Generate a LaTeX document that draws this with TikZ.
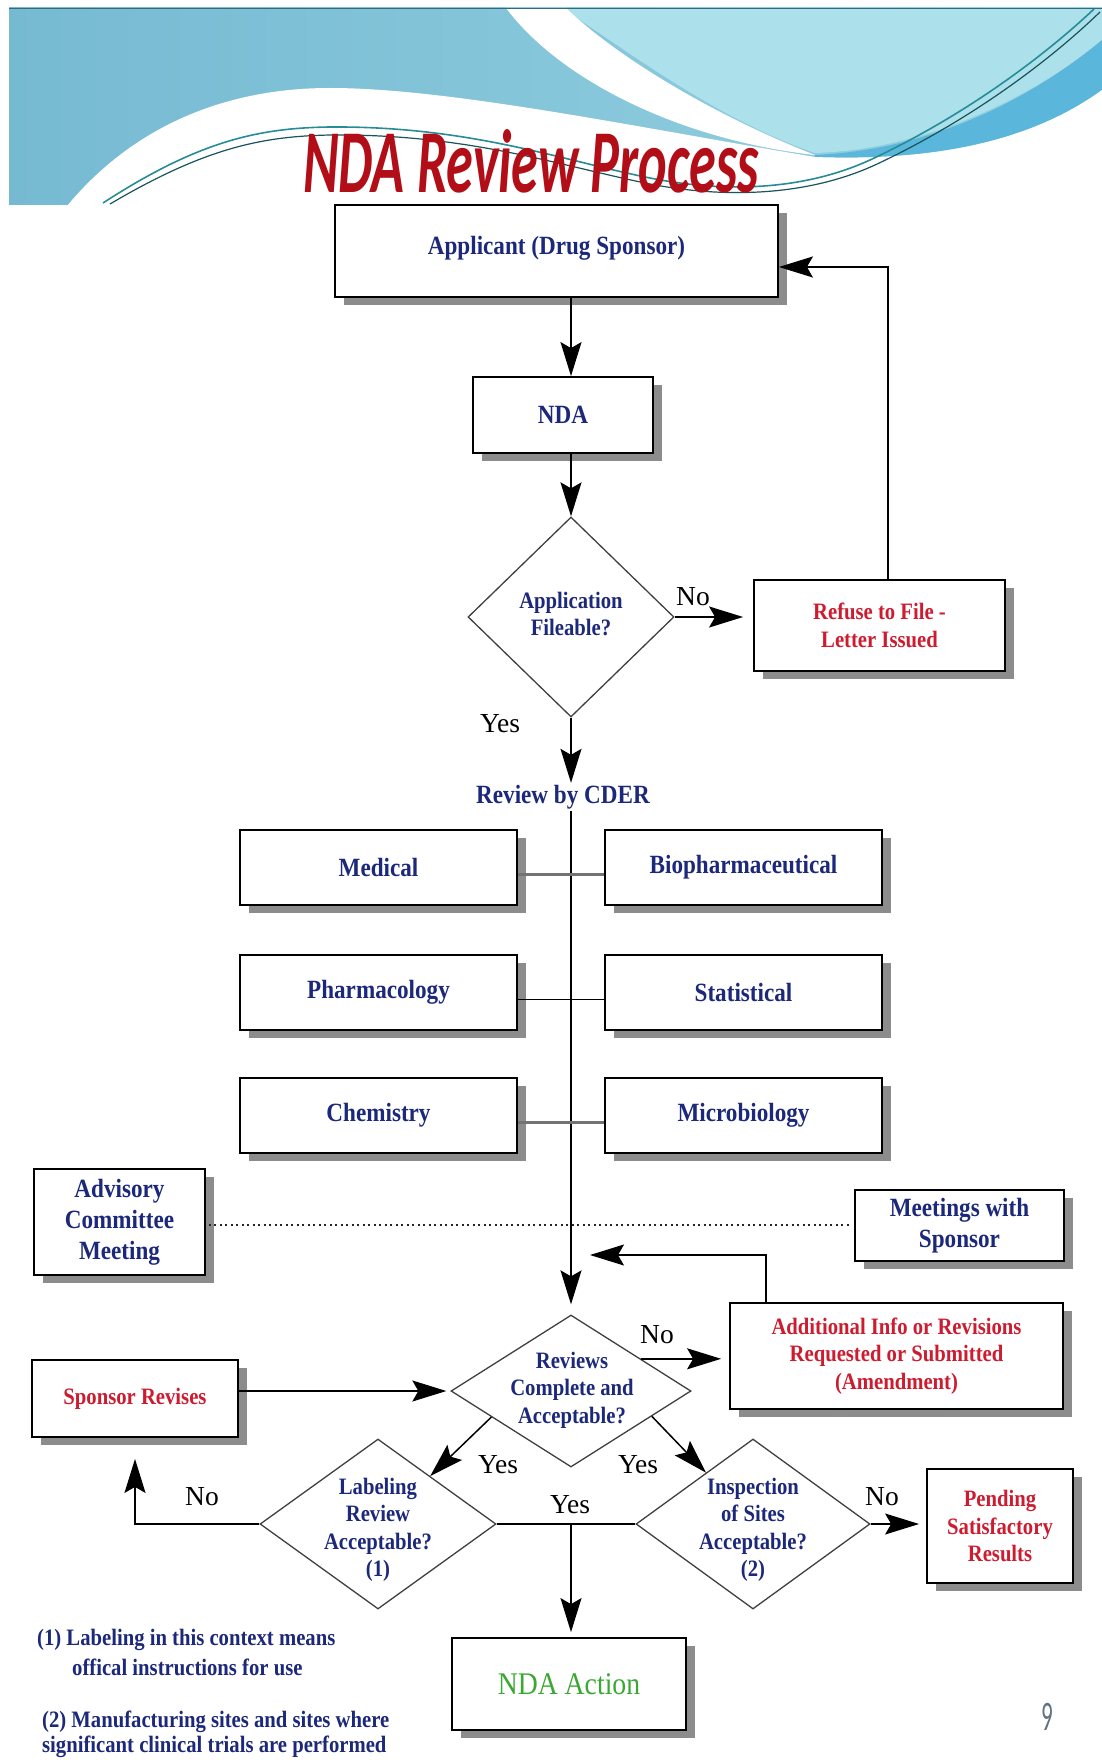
\documentclass[tikz,border=0pt]{standalone}
\usepackage{graphicx}
\usepackage{fontspec}
\setmainfont{Liberation Serif}
\newfontfamily\dgfont[FakeStretch=0.88]{Liberation Serif}
\newfontfamily\ttlfont{Carlito}
\usetikzlibrary{arrows.meta,shapes.geometric,shadows,calc}
\definecolor{navy}{RGB}{28,40,122}
\definecolor{crim}{RGB}{205,28,48}
\definecolor{grn}{RGB}{60,168,52}
\definecolor{ttl}{RGB}{178,14,24}
\definecolor{hdrA}{RGB}{118,186,210}
\definecolor{hdrB}{RGB}{150,210,226}
\definecolor{hdrC}{RGB}{172,224,234}
\definecolor{bandc}{RGB}{90,182,218}
\definecolor{tealc}{RGB}{40,140,150}
\definecolor{pgn}{RGB}{95,115,130}
\definecolor{topl}{RGB}{55,105,125}
\newcommand\bigtxt{\dgfont\bfseries\fontsize{26.3}{31}\selectfont}
\newcommand\smtxt{\dgfont\bfseries\fontsize{23.5}{27.5}\selectfont}
\newcommand\yntxt{\rmfamily\fontsize{27.5}{30}\selectfont}
\begin{document}
\begin{tikzpicture}[x=1pt,y=-1pt,
  box/.style={draw=black, line width=1.8pt, fill=white, inner sep=0pt, align=center,
    drop shadow={shadow xshift=9pt, shadow yshift=-8pt, fill=black!45, opacity=1}},
  bluebox/.style={box, text=navy, font=\bigtxt},
  redbox/.style={box, text=crim, font=\smtxt},
  dia/.style={diamond, draw=black!75, line width=1.3pt, fill=white, inner sep=0pt},
  diatext/.style={inner sep=0pt, align=center, text=navy, font=\smtxt},
  conn/.style={line width=1.5pt, draw=black},
  gconn/.style={line width=2.5pt, draw=black!55},
  dotline/.style={line width=2.5pt, draw=black!85, dash pattern=on 2pt off 3.5pt},
  arr/.style={conn, -{Stealth[length=34pt, width=21pt, inset=6pt]}},
  lbl/.style={inner sep=0pt, font=\yntxt},
  foot/.style={inner sep=0pt, anchor=west, text=navy, font=\smtxt}]
\useasboundingbox (0,0) rectangle (1102,1760);
\fill[white] (0,0) rectangle (1102,1760);
% header
\shade[left color=hdrA, right color=hdrB] (9,8) rectangle (1102,205);
\fill[hdrC] (562,8) .. controls (640,60) and (720,120) .. (815,153) .. controls (920,150) and (1030,100) .. (1102,40) -- (1102,8) -- cycle;
\fill[white] (506,8) .. controls (560,80) and (680,140) .. (815,155) .. controls (720,118) and (620,60) .. (566,8) -- cycle;
\fill[bandc] (815,155) .. controls (930,150) and (1030,100) .. (1102,40) -- (1102,90) .. controls (1040,135) and (950,162) .. (815,157) -- cycle;
\fill[white] (67,206) .. controls (130,130) and (220,88) .. (330,88) .. controls (450,88) and (640,128) .. (815,157) .. controls (950,162) and (1040,135) .. (1102,90) -- (1102,206) -- cycle;
\draw[tealc, line width=1.6pt] (103,203) .. controls (200,140) and (260,128) .. (330,127) .. controls (470,126) and (560,160) .. (650,178) .. controls (720,192) and (800,192) .. (870,160) .. controls (960,118) and (1040,60) .. (1094,9);
\draw[tealc!60!black, line width=1.2pt] (110,204) .. controls (205,148) and (262,136) .. (332,135) .. controls (470,134) and (560,166) .. (650,184) .. controls (722,198) and (805,197) .. (875,165) .. controls (965,123) and (1045,65) .. (1100,12);
\draw[topl, line width=1.5pt] (9,8.5) -- (1102,8.5);
\node[text=ttl, inner sep=0pt] (title) at (531,161.5) {\resizebox{456pt}{63pt}{\ttlfont\bfseries\itshape NDA Review Process}};

% nodes
\coordinate (ax) at (571,0);
\node[bluebox, minimum width=443pt, minimum height=92pt] (app) at (556.5,251) {Applicant (Drug Sponsor)\\[-19pt]\mbox{}};
\node[bluebox, minimum width=180pt, minimum height=76pt] (nda) at (563,415) {NDA};
\node[dia, minimum width=206pt, minimum height=200pt] (dF) at (571,617) {};
\node[diatext] (dFt) at (571,614) {Application\\Fileable?};
\node[redbox, minimum width=251pt, minimum height=91pt] (refuse) at (879.5,625.5) {Refuse to File -\\Letter Issued};
\node[inner sep=2pt, text=navy, font=\bigtxt] (cder) at (563,797) {Review by CDER};
\node[bluebox, minimum width=277pt, minimum height=75pt] (med) at (378.5,867.5) {Medical};
\node[bluebox, minimum width=277pt, minimum height=75pt] (bio) at (743.5,867.5) {Biopharmaceutical};
\node[bluebox, minimum width=277pt, minimum height=75pt] (phar) at (378.5,992.5) {Pharmacology};
\node[bluebox, minimum width=277pt, minimum height=75pt] (stat) at (743.5,992.5) {Statistical};
\node[bluebox, minimum width=277pt, minimum height=75pt] (chem) at (378.5,1115.5) {Chemistry};
\node[bluebox, minimum width=277pt, minimum height=75pt] (micro) at (743.5,1115.5) {Microbiology};
\node[bluebox, minimum width=171pt, minimum height=106pt] (adv) at (119.5,1222) {Advisory\\Committee\\Meeting};
\node[bluebox, minimum width=209pt, minimum height=71pt] (meet) at (959.5,1225.5) {Meetings with\\Sponsor};
\node[dia, minimum width=240pt, minimum height=152pt] (rev) at (571,1391) {};
\node[diatext] (revt) at (572,1390) {Reviews\\Complete and\\Acceptable?};
\node[redbox, minimum width=333pt, minimum height=106pt] (addl) at (896.5,1356) {Additional Info or Revisions\\Requested or Submitted\\(Amendment)};
\node[redbox, minimum width=206pt, minimum height=77pt] (spons) at (135,1398.5) {Sponsor Revises};
\node[dia, minimum width=236pt, minimum height=170pt] (lab) at (378,1524) {};
\node[diatext] (labt) at (378,1530) {Labeling\\Review\\Acceptable?\\(1)};
\node[dia, minimum width=234pt, minimum height=170pt] (insp) at (753,1524) {};
\node[diatext] (inspt) at (753,1530) {Inspection\\of Sites\\Acceptable?\\(2)};
\node[redbox, minimum width=146pt, minimum height=114pt] (pend) at (1000,1526) {Pending\\Satisfactory\\Results};
\node[box, text=grn, font={\dgfont\fontsize{31.5}{34}\selectfont}, minimum width=234pt, minimum height=92pt] (act) at (569,1684) {NDA Action};

% connectors
\draw[arr] (ax |- app.south) -- (ax |- nda.north);
\draw[arr] (ax |- nda.south) -- (dF.north);
\draw[arr, shorten >=10pt] (dF.east) -- (dF.east -| refuse.west);
\coordinate (c1) at (888,267);
\draw[arr] (refuse.north -| c1) -- (c1) -- (c1 -| app.east);
\draw[arr] (dF.south) -- (dF.south |- cder.north);
\draw[arr, shorten >=10pt] (dF.south |- cder.south) -- (rev.north);
\draw[gconn] ([yshift=-7pt]med.east) -- ([yshift=-7pt]bio.west);
\draw[conn] ([yshift=-7pt]phar.east) -- ([yshift=-7pt]stat.west);
\draw[gconn] ([yshift=-7pt]chem.east) -- ([yshift=-7pt]micro.west);
\draw[dotline, shorten <=3pt, shorten >=5pt] ([yshift=-3pt]adv.east) -- ([yshift=-3pt]adv.east -| meet.west);
\coordinate (c2) at (766,1255);
\coordinate (c3) at (590,1255);
\draw[arr] (addl.north -| c2) -- (c2) -- (c3);
\coordinate (rvne) at ($(rev.north)!0.58!(rev.east)$);
\draw[arr, shorten >=8pt] (rvne) -- (rvne -| addl.west);
\draw[arr, shorten >=4pt] (spons.east |- rev.west) -- (rev.west);
\draw[arr] ($(rev.west)!0.34!(rev.south)$) -- ($(lab.north)!0.44!(lab.east)$);
\draw[arr] ($(rev.south)!0.67!(rev.east)$) -- ($(insp.west)!0.6!(insp.north)$);
\draw[conn] (lab.east) -- (insp.west);
\draw[arr, shorten >=5pt] (lab.east -| ax) -- (ax |- act.north);
\draw[arr, shorten >=21pt] (lab.west) -| (spons.south);
\draw[arr, shorten >=7pt] (insp.east) -- (insp.east -| pend.west);

% labels
\node[lbl] (no1) at (693,597) {No};
\node[lbl] (yes1) at (500,724) {Yes};
\node[lbl] (no2) at (657,1335) {No};
\node[lbl] (yes2) at (498,1465) {Yes};
\node[lbl] (yes3) at (638,1465) {Yes};
\node[lbl] (yes4) at (570,1505) {Yes};
\node[lbl] (no3) at (202,1497) {No};
\node[lbl] (no4) at (882,1497) {No};

% footnotes
\node[foot] (fn1) at (37,1640) {(1) Labeling in this context means};
\node[foot] (fn2) at (72,1667) {offical instructions for use};
\node[foot] (fn3) at (42,1722) {(2) Manufacturing sites and sites where};
\node[foot] (fn4) at (42,1747) {significant clinical trials are performed};
\node[text=pgn, inner sep=0pt] (pgno) at (1047,1717) {\scalebox{0.55}[1]{\ttlfont\fontsize{42}{42}\selectfont 9}};
\end{tikzpicture}
\end{document}
